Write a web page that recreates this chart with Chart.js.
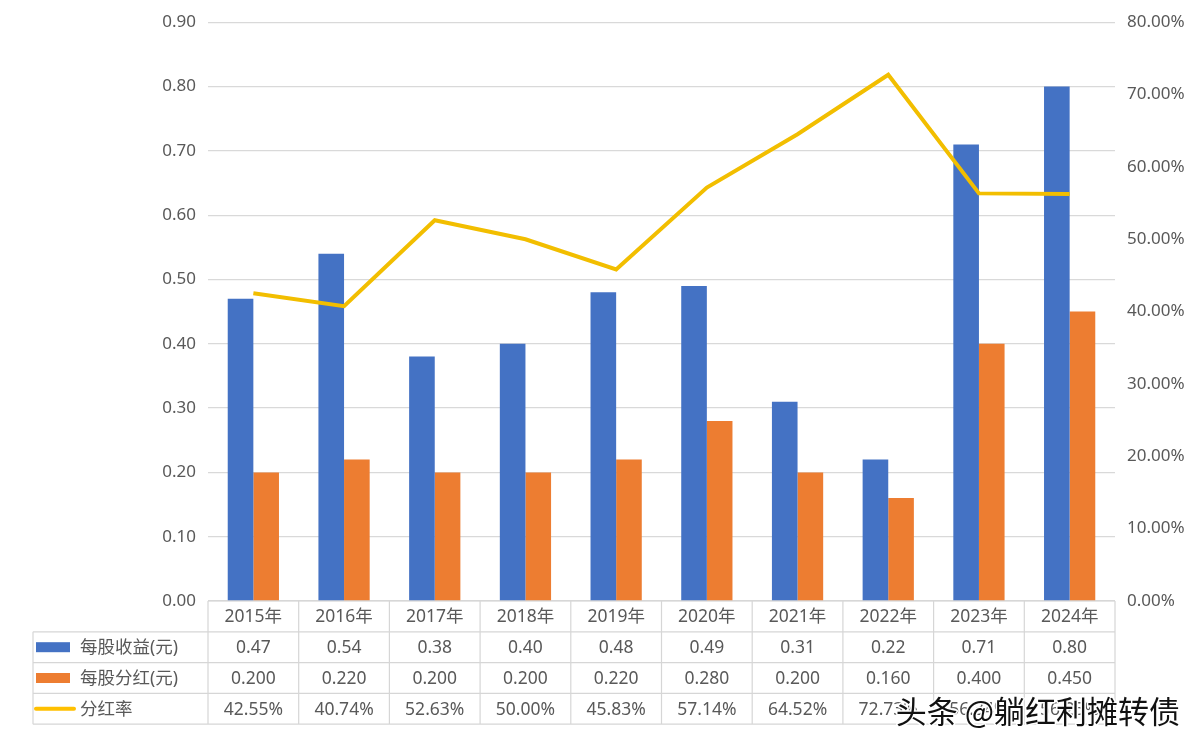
<!DOCTYPE html>
<html>
<head>
<meta charset="utf-8">
<script src="https://cdn.jsdelivr.net/npm/chart.js@4"></script>
<style>
  html, body { margin: 0; padding: 0; background: #fff; }
  #wrap { width: 1200px; height: 745px; position: relative; }
</style>
</head>
<body>
<div id="wrap"><canvas id="divChart"></canvas></div>
<script>
const years = ['2015年', '2016年', '2017年', '2018年', '2019年', '2020年', '2021年', '2022年', '2023年', '2024年'];
const eps = [0.47, 0.54, 0.38, 0.40, 0.48, 0.49, 0.31, 0.22, 0.71, 0.80];
const dps = [0.200, 0.220, 0.200, 0.200, 0.220, 0.280, 0.200, 0.160, 0.400, 0.450];
const payout = [42.55, 40.74, 52.63, 50.00, 45.83, 57.14, 64.52, 72.73, 56.34, 56.25];
const seriesNames = ['每股收益(元)', '每股分红(元)', '分红率'];

const FONT = '"Noto Sans", "Noto Sans CJK SC", sans-serif';
const GREY = '#595959';

// draws the Excel-style data table under the plot
const dataTable = {
    id: 'dataTable',
    afterDraw(chart) {
        const ctx = chart.ctx;
        const x = chart.scales.x;
        const area = chart.chartArea;
        const rowH = 30.8;
        const top = area.bottom;
        const left = 33;
        const step = (area.right - area.left) / years.length;

        ctx.save();
        ctx.strokeStyle = '#d6d6d6';
        ctx.lineWidth = 1.2;

        // horizontal lines
        ctx.beginPath();
        ctx.moveTo(area.left, top);
        ctx.lineTo(area.right, top);
        for (let r = 1; r <= 4; r++) {
            ctx.moveTo(left, top + rowH * r);
            ctx.lineTo(area.right, top + rowH * r);
        }
        // vertical lines
        ctx.moveTo(left, top + rowH);
        ctx.lineTo(left, top + rowH * 4);
        for (let i = 0; i <= years.length; i++) {
            const vx = area.left + step * i;
            ctx.moveTo(vx, top);
            ctx.lineTo(vx, top + rowH * 4);
        }
        ctx.stroke();

        ctx.fillStyle = GREY;
        ctx.font = '17.5px ' + FONT;
        ctx.textAlign = 'center';
        ctx.textBaseline = 'middle';
        const rows = [
            years,
            eps.map(v => v.toFixed(2)),
            dps.map(v => v.toFixed(3)),
            payout.map(v => v.toFixed(2) + '%')
        ];
        rows.forEach((row, r) => {
            const cy = top + rowH * r + rowH / 2 + 1;
            row.forEach((txt, i) => {
                ctx.fillText(txt, x.getPixelForValue(i), cy);
            });
        });

        // legend keys + names
        ctx.textAlign = 'left';
        const keyY = r => top + rowH * r + rowH / 2;
        ctx.fillStyle = '#4472C4';
        ctx.fillRect(36, keyY(1) - 5, 34, 10);
        ctx.fillStyle = '#ED7D31';
        ctx.fillRect(36, keyY(2) - 5, 34, 10);
        ctx.strokeStyle = '#FFC000';
        ctx.lineWidth = 4;
        ctx.lineCap = 'round';
        ctx.beginPath();
        ctx.moveTo(36, keyY(3));
        ctx.lineTo(74, keyY(3));
        ctx.stroke();
        ctx.fillStyle = GREY;
        seriesNames.forEach((n, k) => ctx.fillText(n, 80, keyY(k + 1) + 1));

        // watermark
        ctx.font = '31px "Noto Sans CJK SC", sans-serif';
        ctx.textAlign = 'right';
        ctx.lineWidth = 3;
        ctx.lineJoin = 'round';
        ctx.strokeStyle = '#ffffff';
        ctx.strokeText('头条 @躺红利摊转债', 1180, 711);
        ctx.fillStyle = '#111111';
        ctx.fillText('头条 @躺红利摊转债', 1180, 711);
        ctx.restore();
    }
};

new Chart(document.getElementById('divChart').getContext('2d'), {
    type: 'bar',
    data: {
        labels: years,
        datasets: [{
            label: seriesNames[0],
            data: eps,
            backgroundColor: '#4472C4',
            yAxisID: 'y',
            order: 1,
            categoryPercentage: 0.565,
            barPercentage: 1
        }, {
            label: seriesNames[1],
            data: dps,
            backgroundColor: '#ED7D31',
            yAxisID: 'y',
            order: 1,
            categoryPercentage: 0.565,
            barPercentage: 1
        }, {
            type: 'line',
            label: seriesNames[2],
            data: payout,
            borderColor: '#F2BE00',
            borderWidth: 4,
            pointRadius: 0,
            tension: 0,
            yAxisID: 'y1',
            order: 0
        }]
    },
    options: {
        responsive: true,
        maintainAspectRatio: false,
        animation: false,
        devicePixelRatio: 1,
        layout: { padding: { top: 19, bottom: 144, left: 0, right: 0 } },
        plugins: {
            legend: { display: false },
            tooltip: { enabled: false }
        },
        scales: {
            x: {
                display: false,
                offset: true,
                grid: { display: false }
            },
            y: {
                position: 'left',
                min: 0,
                max: 0.9,
                afterFit: s => { s.width = 208; },
                ticks: {
                    stepSize: 0.1,
                    padding: 12,
                    color: GREY,
                    font: { family: FONT, size: 17 },
                    callback: v => v.toFixed(2)
                },
                grid: { color: '#d9d9d9', lineWidth: 1.2, drawTicks: false },
                border: { display: false }
            },
            y1: {
                position: 'right',
                min: 0,
                max: 80,
                afterFit: s => { s.width = 85; },
                ticks: {
                    stepSize: 10,
                    padding: 12,
                    color: GREY,
                    font: { family: FONT, size: 17 },
                    callback: v => v.toFixed(2) + '%'
                },
                grid: { display: false, drawTicks: false },
                border: { display: false }
            }
        }
    },
    plugins: [dataTable]
});
</script>
</body>
</html>
